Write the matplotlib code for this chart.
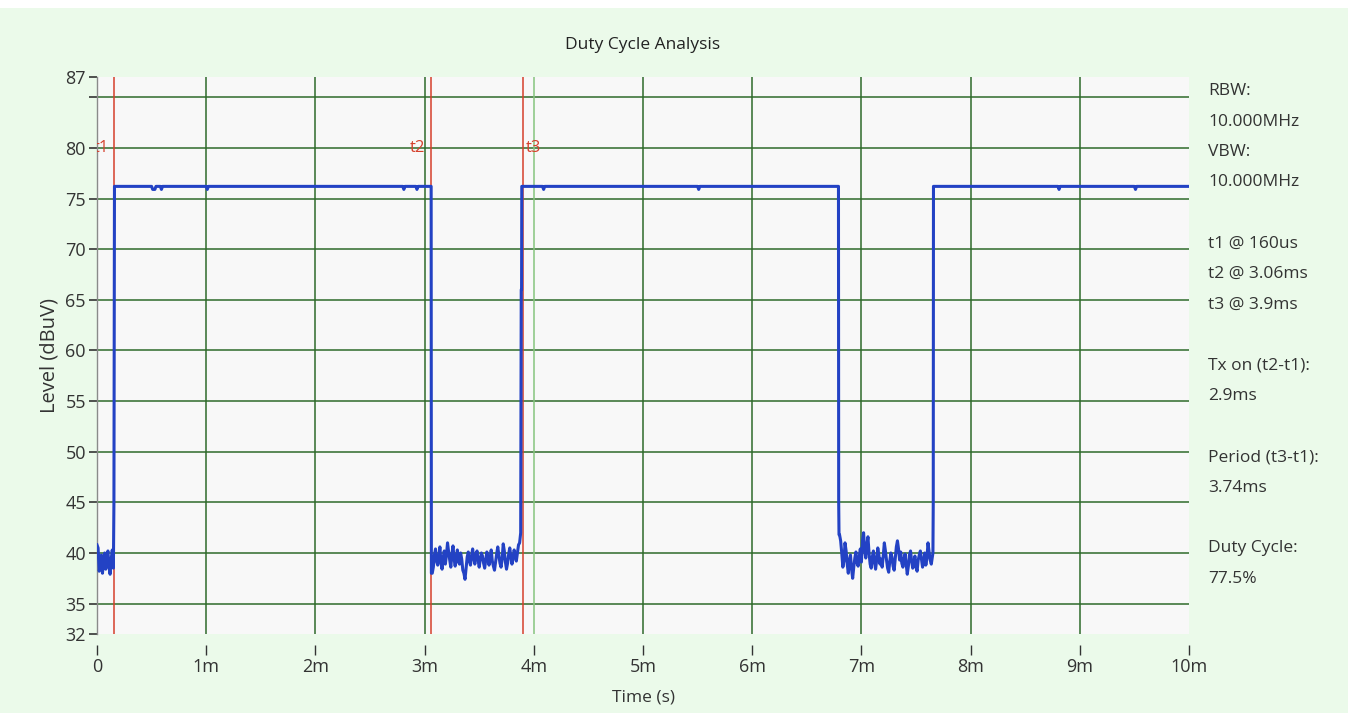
import matplotlib
matplotlib.use("Agg")
import matplotlib.pyplot as plt
import numpy as np

# ---------------- data (time in ms, level in dBuV) ----------------
noise1_start, noise1_end = 0.0, 0.15
noise1_v = [40.8, 40.5, 38.2, 38.8, 39.8, 38.0, 39.2, 40.0, 38.4, 39.6,
            40.2, 38.6, 37.9, 39.4, 40.3, 38.5]

high1_t = [0.17, 0.50, 0.51, 0.53, 0.54, 0.58, 0.59, 0.60, 1.00, 1.01, 1.02,
           2.80, 2.81, 2.82, 2.92, 2.93, 2.94, 3.05]
high1_v = [76.2, 76.2, 75.9, 75.9, 76.2, 76.2, 75.9, 76.2, 76.2, 75.9, 76.2,
           76.2, 75.9, 76.2, 76.2, 75.9, 76.2, 76.2]

noise2_start, noise2_end = 3.07, 3.88
noise2_v = [38.0, 38.6, 39.8, 40.4, 39.2, 38.8, 39.6, 40.6, 39.0, 38.4,
            39.5, 40.2, 38.9, 39.8, 41.0, 40.1, 39.3, 38.6, 39.9, 40.7,
            39.4, 38.7, 39.6, 40.3, 39.1, 38.9, 40.0, 39.4, 38.3, 38.0,
            37.4, 38.5, 39.6, 40.1, 39.2, 38.8, 39.7, 40.4, 39.5, 38.9,
            39.8, 40.2, 39.3, 38.6, 39.4, 40.0, 39.7, 39.0, 38.5, 39.3,
            40.1, 39.6, 38.8, 39.5, 40.3, 39.2, 38.7, 38.3, 39.1, 39.9,
            40.6, 39.8, 39.0, 38.6, 39.4, 40.9, 40.2, 39.1, 38.4, 39.0,
            39.9, 40.5, 39.6, 38.9, 39.5, 40.3, 39.7, 39.2, 40.0, 40.8,
            41.0, 42.0]

high2_t = [3.91, 4.08, 4.09, 4.10, 5.50, 5.51, 5.52, 6.78]
high2_v = [76.2, 76.2, 75.9, 76.2, 76.2, 75.9, 76.2, 76.2]

noise3_start, noise3_end = 6.80, 7.64
noise3_v = [41.8, 41.2, 40.0, 38.6, 39.2, 41.0, 40.2, 38.9, 38.0, 39.3,
            39.8, 38.4, 37.5, 38.6, 39.5, 40.1, 39.0, 38.7, 39.6, 40.4,
            39.1, 41.2, 42.0, 40.3, 39.5, 40.8, 41.6, 40.0, 38.9, 38.5,
            39.6, 40.2, 39.1, 38.4, 39.3, 40.5, 39.8, 38.9, 39.4, 38.6,
            39.7, 41.0, 40.2, 39.3, 38.5, 38.1, 39.2, 40.0, 39.6, 38.7,
            38.3, 39.5, 40.6, 41.2, 40.4, 39.3, 40.1, 39.0, 38.6, 39.4,
            39.9, 38.9, 37.9, 38.7, 39.8, 40.2, 39.2, 38.5, 39.0, 39.7,
            38.6, 38.2, 39.3, 39.8, 40.2, 39.4, 38.6, 39.1, 40.0, 38.8,
            39.5, 41.0, 40.1, 39.3, 38.9]

high3_t = [7.67, 8.80, 8.81, 8.82, 9.50, 9.51, 9.52, 10.0]
high3_v = [76.2, 76.2, 75.9, 76.2, 76.2, 75.9, 76.2, 76.2]

# transition points
edge1_t = [0.155, 0.16]
edge1_v = [45.0, 76.2]
edge2_t = [3.06, 3.062]
edge2_v = [76.2, 38.0]
edge3_t = [3.885, 3.888, 3.89]
edge3_v = [66.0, 66.0, 76.2]
edge4_t = [6.79, 6.792, 6.795]
edge4_v = [76.2, 45.0, 41.8]
edge5_t = [7.655, 7.658, 7.66]
edge5_v = [40.0, 45.0, 76.2]

marker_names = ["t1", "t2", "t3"]
marker_times = [0.16, 3.06, 3.9]

x_ticks = [0, 1, 2, 3, 4, 5, 6, 7, 8, 9, 10]
x_labels = ["0", "1m", "2m", "3m", "4m", "5m", "6m", "7m", "8m", "9m", "10m"]
y_ticks = [32, 35, 40, 45, 50, 55, 60, 65, 70, 75, 80, 85, 87]
y_labels = ["32", "35", "40", "45", "50", "55", "60", "65", "70", "75", "80", "", "87"]
grid_levels = [35, 40, 45, 50, 55, 60, 65, 70, 75, 80, 85]

info_lines = ["RBW:", "10.000MHz", "VBW:", "10.000MHz", "",
              "t1 @ 160us", "t2 @ 3.06ms", "t3 @ 3.9ms", "",
              "Tx on (t2-t1):", "2.9ms", "", "Period (t3-t1):", "3.74ms", "",
              "Duty Cycle:", "77.5%"]

# ---------------- assemble trace ----------------
noise1_t = list(np.linspace(noise1_start, noise1_end, len(noise1_v)))
noise2_t = list(np.linspace(noise2_start, noise2_end, len(noise2_v)))
noise3_t = list(np.linspace(noise3_start, noise3_end, len(noise3_v)))

t = (noise1_t + edge1_t + high1_t + edge2_t + noise2_t + edge3_t + high2_t
     + edge4_t + noise3_t + edge5_t + high3_t)
v = (noise1_v + edge1_v + high1_v + edge2_v + noise2_v + edge3_v + high2_v
     + edge4_v + noise3_v + edge5_v + high3_v)

# ---------------- figure ----------------
plt.rcParams['font.family'] = ['Open Sans', 'DejaVu Sans']
W, H = 1348, 713
fig = plt.figure(figsize=(W / 100, H / 100), dpi=100)
fig.patch.set_facecolor('#ebfaea')
fig.add_artist(plt.Rectangle((0, 1 - 8 / H), 1, 8 / H, transform=fig.transFigure,
                             facecolor='white', edgecolor='none', zorder=0))

ax = fig.add_axes([97 / W, 1 - 634 / H, (1189 - 97) / W, (634 - 77) / H])
ax.set_facecolor('#f8f8f8')
ax.set_xlim(0, 10)
ax.set_ylim(32, 87)

grid_col = '#2f6a2a'
for g in grid_levels:
    ax.axhline(g, color=grid_col, lw=1.1, zorder=1)
for xt in x_ticks[1:-1]:
    ax.axvline(xt, color=('#86c47e' if xt == 4 else grid_col), lw=1.1, zorder=1)

# markers
mk_col = '#d5402c'
label_offsets = {"t1": -0.05, "t2": -0.055, "t3": 0.03}
for name, mt in zip(marker_names, marker_times):
    ax.axvline(mt, color=mk_col, lw=1.1, zorder=2)
    off = label_offsets[name]
    ax.text(mt + off, 80, name, color=mk_col, fontsize=12,
            ha=('left' if off > 0 else 'right'), va='center',
            clip_on=True, zorder=3)

ax.plot(t, v, color='#2342c4', lw=2.2, zorder=4, solid_joinstyle='round')

# axes styling
for s in ['top', 'right']:
    ax.spines[s].set_visible(False)
ax.spines['left'].set_color('#8a8a8a')
ax.spines['left'].set_linewidth(1.0)
ax.spines['bottom'].set_position(('outward', 8))
ax.spines['bottom'].set_visible(False)

ax.set_xticks(x_ticks)
ax.set_xticklabels(x_labels)
ax.set_yticks(y_ticks)
ax.set_yticklabels(y_labels)
ax.tick_params(axis='y', direction='out', length=6, width=1.2, color='#333333',
               labelsize=13, labelcolor='#333333', pad=2)
ax.tick_params(axis='x', direction='out', length=7, width=1.0, color='#333333',
               labelsize=13, labelcolor='#333333', pad=2)

fig.text(643 / W, 1 - 45 / H, "Duty Cycle Analysis", fontsize=12.5,
         color='#222222', ha='center', va='center')
ax.set_xlabel("Time (s)", fontsize=12.5, color='#333333', labelpad=10)
ax.set_ylabel("Level (dBuV)", fontsize=14.5, color='#333333', labelpad=4)

# info panel on the right
y0 = 91
step = 30.5
for i, line in enumerate(info_lines):
    if line:
        fig.text(1208 / W, 1 - (y0 + i * step) / H, line, fontsize=12.5,
                 color='#333333', ha='left', va='center')

fig.savefig("out.png", dpi=100, facecolor=fig.get_facecolor())
